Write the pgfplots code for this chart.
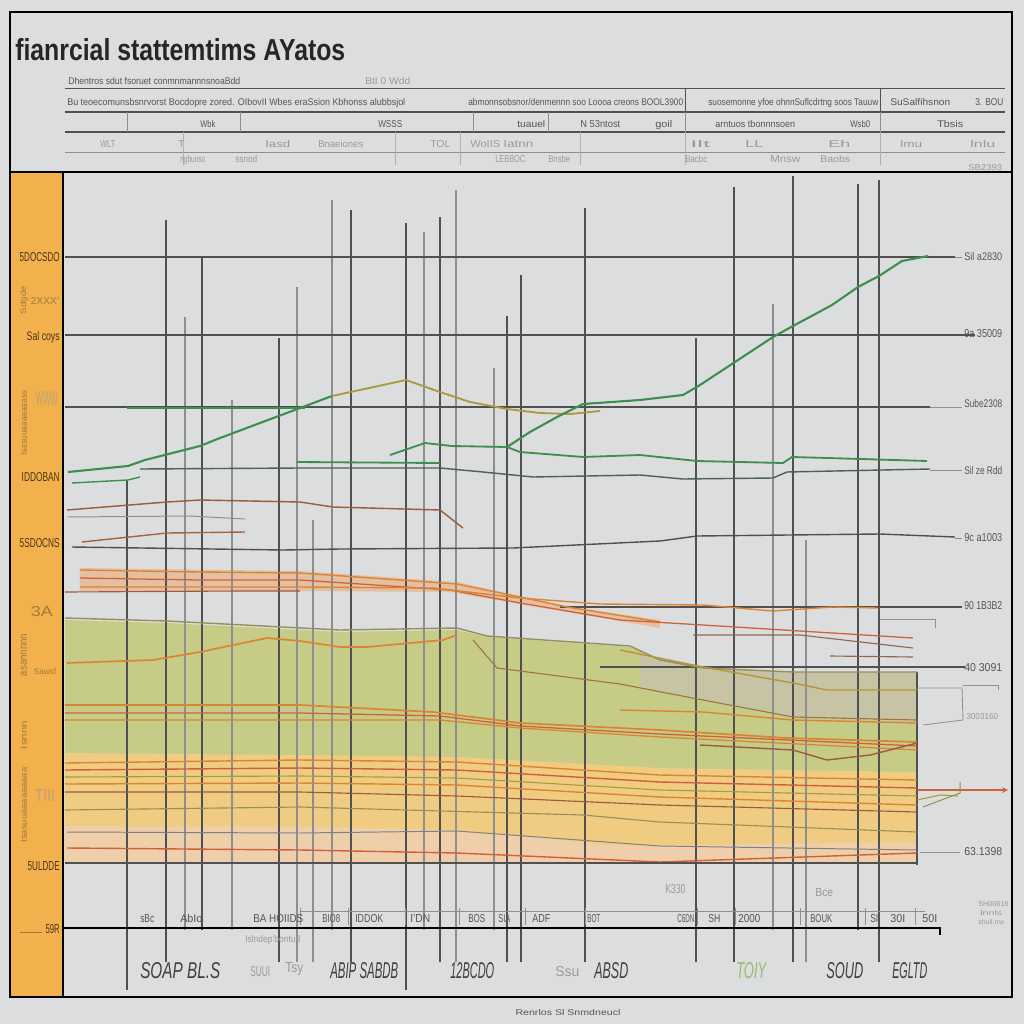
\documentclass[border=0pt]{standalone}
\usepackage{pgfplots}
\pgfplotsset{compat=1.18}
\usepackage{graphicx}
\usepackage{fontspec}
\setmainfont{Liberation Sans}
\newlength\pxu \setlength\pxu{0.25mm}
\newcommand\rt[3]{\resizebox{#1\pxu}{#2\pxu}{#3}}
\definecolor{bg}{HTML}{DCDDDF}
\definecolor{obar}{HTML}{F2B14D}
\definecolor{gridc}{HTML}{505050}
\definecolor{gridl}{HTML}{8E8E8E}
\definecolor{gline}{HTML}{3E8E50}
\definecolor{olive}{HTML}{A99B3C}
\definecolor{brn}{HTML}{9A5B40}
\definecolor{orng}{HTML}{DB8433}
\definecolor{redor}{HTML}{D0603A}
\definecolor{fgreen}{HTML}{C6CB86}
\definecolor{fyell}{HTML}{F0CC82}
\definecolor{fpeach}{HTML}{EECFAA}
\definecolor{fbeige}{HTML}{C8C3AC}
\definecolor{fband}{HTML}{E9B486}
\definecolor{txt}{HTML}{555555}
\definecolor{ltxt}{HTML}{9A9A9A}
\definecolor{btxt}{HTML}{4A3414}
\definecolor{bltxt}{HTML}{A07A3A}
\definecolor{bigt}{HTML}{404040}
\definecolor{gtxt}{HTML}{8FBF70}
\begin{document}
\begin{tikzpicture}
\begin{axis}[scale only axis, width=237.25mm, height=206.25mm,
  xmin=63, xmax=1012, ymin=172, ymax=997, y dir=reverse,
  hide axis, clip=false]
% background and frame
\fill[bg] (0,0) rectangle (1024,1024);
\coordinate (BL) at (0,1024);
\coordinate (TR) at (1024,0);
\fill[obar] (10,172) rectangle (63,997);
% ---------- fills ----------
\addplot[fill=fgreen, draw=none] coordinates {(65,620)(167,623)(340,632)(457,630)(487,637)(630,647)(660,660)(703,668)(793,672)(917,672)(917,863)(65,863)} -- cycle;
\addplot[fill=fbeige, draw=none, fill opacity=0.85] coordinates {(640,655)(703,667)(793,672)(917,672)(917,722)(793,717)(703,700)(640,688)} -- cycle;
\addplot[fill=fyell, draw=none] coordinates {(65,753)(300,755)(460,757)(660,768)(917,772)(917,863)(65,863)} -- cycle;
\addplot[fill=fpeach, draw=none] coordinates {(65,826)(300,827)(457,830)(620,846)(917,842)(917,863)(65,863)} -- cycle;
\addplot[fill=fband, draw=none, fill opacity=0.7] coordinates {(80,568)(300,571)(457,582)(520,596)(567,606)(660,620)(660,628)(520,604)(450,592)(300,591)(80,591)} -- cycle;
% ---------- grid ----------
\foreach \xx/\tp/\bt/\cc in {127/480/990/gridc,166/220/962/gridc,185/317/930/gridl,202/257/930/gridc,232/400/930/gridl,279/338/962/gridc,297/287/962/gridl,313/520/962/gridl,332/200/930/gridl,351/210/962/gridc,406/223/990/gridc,424/232/930/gridl,440/217/962/gridc,456/190/962/gridl,494/368/930/gridl,507/316/962/gridc,521/275/962/gridc,585/208/962/gridc,696/338/962/gridc,734/187/962/gridc,773/304/930/gridl,793/176/962/gridc,806/540/962/gridl,858/184/930/gridc,879/180/962/gridc,917/672/865/gridc}
  {\edef\temp{\noexpand\draw[\cc, line width=0.8pt] (\xx,\tp) -- (\xx,\bt);}\temp}
\draw[gridc, line width=1pt] (65,257) -- (955,257);
\draw[gridl, line width=0.5pt] (955,257) -- (962,257);
\draw[gridc, line width=1pt] (65,335) -- (975,335);
\draw[gridc, line width=1pt] (65,407) -- (930,407);
\draw[gridl, line width=0.5pt] (930,407) -- (962,407);
\draw[gridc, line width=1pt] (560,607) -- (962,607);
\draw[gridc, line width=1pt] (600,667) -- (965,667);
\draw[gridl, line width=0.5pt] (930,470) -- (962,470);
\draw[gridl, line width=0.5pt] (955,538) -- (962,538);
\draw[gridl, line width=0.5pt] (920,852) -- (960,852);
% ---------- upper lines ----------
\addplot[gridc, line width=1pt] coordinates {(72,547)(283,550)(340,549)(513,548)(660,541)(697,536)(880,534)(955,537)};
\addplot[gridc!70!gline, line width=1pt] coordinates {(140,469)(300,468)(440,468)(483,472)(533,477)(640,475)(683,479)(773,478)(787,472)(930,469)};
\addplot[gline, line width=1.5pt] coordinates {(68,472)(128,466)(145,460)(200,446)(220,438)(260,423)(300,408)(332,396)};
\addplot[olive, line width=1.3pt] coordinates {(332,396)(406,380)(440,392)(470,402)(507,409)(540,413)(570,414)(600,411)};
\addplot[gline, line width=1.3pt] coordinates {(127,408)(305,408)};
\addplot[gline, line width=1.5pt] coordinates {(507,447)(530,432)(557,417)(583,404)(640,400)(683,395)(700,385)(735,362)(773,337)(793,326)(832,305)(858,287)(879,276)(902,261)(928,256)};
\addplot[gline, line width=1.3pt] coordinates {(390,455)(425,443)(452,446)(507,447)(520,452)(583,457)(640,455)(697,461)(783,463)(792,457)(828,458)(927,461)};
\addplot[gline, line width=1.3pt] coordinates {(297,462)(440,463)};
\addplot[gline, line width=1pt] coordinates {(72,483)(128,480)(140,477)};
\addplot[brn, line width=1pt] coordinates {(67,510)(167,502)(200,500)(300,502)(333,507)(440,510)(463,528)};
\addplot[gridl, line width=0.7pt] coordinates {(67,517)(190,516)(245,519)};
\addplot[brn!80!orng, line width=1pt] coordinates {(82,542)(167,533)(245,532)};
% orange band
\addplot[orng, line width=1pt] coordinates {(80,570)(200,572)(300,573)(457,584)(520,597)(567,607)(660,622)};
\addplot[redor, line width=0.9pt] coordinates {(80,578)(200,580)(300,580)(450,590)(520,603)(620,620)(703,625)(913,638)};
\addplot[orng, line width=1pt] coordinates {(80,587)(300,587)(433,588)(520,598)(600,604)(703,605)(773,611)(833,607)(877,608)};
\addplot[brn, line width=0.8pt] coordinates {(65,592)(240,591)(300,591)};
\addplot[brn!70!gray, line width=0.8pt] coordinates {(693,635)(800,635)(913,648)};
\addplot[brn!70!gray, line width=0.8pt] coordinates {(830,656)(913,657)};
% ---------- lines in filled area ----------
\addplot[olive!55!gray, line width=1pt] coordinates {(65,618)(167,621)(340,630)(457,628)(487,636)(630,646)(660,660)(703,668)(793,672)(917,672)};
\addplot[orng, line width=1.2pt] coordinates {(67,663)(153,660)(200,652)(267,638)(300,641)(340,647)(367,647)(443,640)(457,635)};
\addplot[olive!80!orng, line width=1pt] coordinates {(620,650)(703,667)(793,683)(827,690)(917,690)};
\addplot[brn!60!olive, line width=0.8pt] coordinates {(473,640)(497,668)(620,684)(703,700)(793,717)(917,720)};
\addplot[orng, line width=1pt] coordinates {(620,710)(703,712)(793,720)(917,723)};
\addplot[orng, line width=1.2pt] coordinates {(65,705)(300,705)(433,712)(520,723)(660,730)(787,738)(917,742)};
\addplot[redor, line width=0.9pt] coordinates {(65,713)(300,713)(440,716)(520,726)(660,734)(917,746)};
\addplot[orng, line width=0.9pt] coordinates {(65,720)(300,720)(440,720)(520,728)(660,737)(917,750)};
\addplot[brn, line width=1pt] coordinates {(700,745)(793,750)(827,760)(870,755)(917,743)};
\addplot[orng, line width=1pt] coordinates {(65,763)(300,760)(457,762)(660,775)(917,780)};
\addplot[redor, line width=1pt] coordinates {(65,770)(300,768)(457,770)(660,782)(917,788)};
\addplot[olive, line width=0.8pt] coordinates {(65,777)(300,776)(457,778)(660,790)(917,796)};
\addplot[orng, line width=1pt] coordinates {(65,784)(300,783)(457,785)(660,797)(917,805)};
\addplot[brn, line width=0.8pt] coordinates {(65,792)(300,792)(457,796)(660,805)(917,812)};
\addplot[olive!60!gray, line width=0.8pt] coordinates {(65,810)(300,807)(583,815)(660,822)(917,832)};
\addplot[gray, line width=0.7pt] coordinates {(67,832)(300,833)(457,831)(660,846)(917,850)};
\addplot[redor, line width=1pt] coordinates {(67,848)(300,850)(457,853)(660,862)(917,853)};
\draw[gridc, line width=1.4pt] (65,863) -- (917,863);
% right of fill
\addplot[redor, line width=0.9pt, -stealth] coordinates {(917,790)(1008,790)};
\addplot[olive, line width=0.8pt] coordinates {(917,800)(940,795)(958,796)};
\addplot[olive!70!gline, line width=0.7pt] coordinates {(923,807)(960,793)(960,782)};
\draw[gridl, line width=0.6pt] (917,688) -- (962,688) -- (963,720) -- (923,725);
\draw[gridl, line width=0.6pt] (880,619) -- (935,619) -- (935,628);
\draw[gridl, line width=0.6pt] (963,685) -- (998,685) -- (998,690);
% bottom rules
\draw[black, line width=1.6pt] (63,928) -- (940,928) -- (940,935);
\draw[gridl, line width=0.6pt] (300,911) -- (925,911);
\foreach \xx in {300,348,405,459,525,585,697,735,800,865,915} {\edef\temp{\noexpand\draw[gridl, line width=0.5pt] (\xx,908) -- (\xx,925);}\temp}
% ---------- frame ----------
\draw[black, line width=1.3pt] (10,12) rectangle (1012,997);
\draw[black, line width=1.6pt] (10,172) -- (1012,172);
\draw[black, line width=1.2pt] (63,172) -- (63,997);
% ---------- title ----------
\node[anchor=base west, inner sep=0, text=black!85] at (15,60) {\rt{330}{22}{\bfseries fianrcial stattemtims AYatos}};
% ---------- header table ----------
\draw[gridc, line width=0.6pt] (65,88) -- (1005,88);
\draw[gridc, line width=1pt] (65,112) -- (1005,112);
\draw[gridc, line width=1pt] (65,132) -- (1005,132);
\draw[gridl, line width=0.4pt] (65,152) -- (1005,152);
\foreach \xx in {685,880} {\edef\temp{\noexpand\draw[gridc, line width=0.6pt] (\xx,88) -- (\xx,112);}\temp}
\foreach \xx in {127,240,473,548,685,880} {\edef\temp{\noexpand\draw[gridl, line width=0.6pt] (\xx,112) -- (\xx,132);}\temp}
\foreach \xx in {183,395,460,580,685,880} {\edef\temp{\noexpand\draw[gridl!70, line width=0.5pt] (\xx,132) -- (\xx,165);}\temp}
\node[anchor=base west, inner sep=0, text=txt] at (68,84) {\rt{172}{7}{Dhentros sdut fsoruet conmnmannnsnoaBdd}};
\node[anchor=base west, inner sep=0, text=ltxt] at (365,84) {\rt{45}{7}{BtI 0 Wdd}};
\node[anchor=base west, inner sep=0, text=txt] at (67,105) {\rt{338}{7}{Bu teoecomunsbsnrvorst Bocdopre zored. OIbovII Wbes eraSsion Kbhonss alubbsjol}};
\node[anchor=base west, inner sep=0, text=txt] at (468,105) {\rt{215}{7}{abmonnsobsnor/denmennn soo Loooa creons BOOL3900}};
\node[anchor=base west, inner sep=0, text=txt] at (708,105) {\rt{170}{7}{suosemonne yfoe ohnnSuflcdrtng soos Tauuw}};
\node[anchor=base west, inner sep=0, text=txt] at (890,105) {\rt{60}{7}{SuSalfihsnon}};
\node[anchor=base west, inner sep=0, text=txt] at (975,105) {\rt{28}{7}{3. BOU}};
\foreach \xx/\ww/\ss in {200/15/Wbk,378/24/WSSS,517/28/tuauel,580/40/N 53ntost,655/17/goil,715/80/arntuos tbonnnsoen,850/20/Wsb0,937/26/Tbsis}
  {\edef\temp{\noexpand\node[anchor=base west, inner sep=0, text=txt] at (\xx,127) {\noexpand\rt{\ww}{7}{\ss}};}\temp}
\foreach \xx/\ww/\ss in {100/15/WLT,178/6/T,265/25/Iasd,318/45/Bnaeiones,430/20/TOL,470/30/WoIIS,503/30/Iatnn,690/20/Ilt,745/18/LL,828/22/Eh,900/22/lmu,970/25/lnlu}
  {\edef\temp{\noexpand\node[anchor=base west, inner sep=0, text=ltxt] at (\xx,147) {\noexpand\rt{\ww}{7}{\ss}};}\temp}
\foreach \xx/\ww/\ss in {180/25/ngbunso,235/22/ssnod,495/30/LEBBOC,548/22/Bnsbe,685/22/Bacbc,770/30/Mnsw,820/30/Baobs}
  {\edef\temp{\noexpand\node[anchor=base west, inner sep=0, text=ltxt] at (\xx,162) {\noexpand\rt{\ww}{7}{\ss}};}\temp}
\node[anchor=base west, inner sep=0, text=ltxt] at (968,170) {\rt{34}{6}{SB2393}};
% ---------- right labels ----------
\foreach \yy/\ss in {257/Sil a2830,334/9a 35009,404/Sube2308,471/Sil ze Rdd,538/9c a1003,606/90 1B3B2,668/40 3091,852/63.1398}
  {\edef\temp{\noexpand\node[anchor=west, inner sep=0, text=txt] at (964,\yy) {\noexpand\rt{38}{8}{\ss}};}\temp}
\node[anchor=west, inner sep=0, text=ltxt] at (966,717) {\rt{32}{6}{3003160}};
\node[anchor=base west, inner sep=0, text=ltxt] at (978,906) {\rt{30}{5}{SH00618}};
\node[anchor=base west, inner sep=0, text=ltxt] at (980,915) {\rt{22}{5}{lnnls}};
\node[anchor=base west, inner sep=0, text=ltxt] at (978,924) {\rt{26}{5}{shuil.rrw}};
% ---------- left labels ----------
\foreach \yy/\ww/\ss in {257/40/5DOCSDO,337/33/Sal coys,477/38/IDDOBAN,543/40/5SDOCNS,866/32/5ULDDE,929/14/59R}
  {\edef\temp{\noexpand\node[anchor=east, inner sep=0, text=btxt] at (60,\yy) {\noexpand\rt{\ww}{9}{\ss}};}\temp}
\draw[bltxt, line width=0.5pt] (20,932) -- (42,932);
\node[rotate=90, inner sep=0, text=bltxt] at (24,300) {\rt{28}{6}{Sdgde}};
\node[inner sep=0, text=bltxt] at (45,301) {\rt{28}{7}{2XXX'}};
\node[rotate=90, inner sep=0, text=bltxt] at (24,423) {\rt{65}{6}{Isasuuaaaaaaass}};
\node[inner sep=0, text=bltxt!70] at (47,398) {\rt{22}{14}{WWW}};
\node[inner sep=0, text=bltxt] at (42,612) {\rt{22}{10}{3A}};
\node[rotate=90, inner sep=0, text=bltxt] at (24,655) {\rt{42}{6}{asannnnn}};
\node[inner sep=0, text=bltxt] at (45,672) {\rt{22}{6}{Sawsf}};
\node[rotate=90, inner sep=0, text=bltxt] at (24,735) {\rt{28}{6}{Isnnn}};
\node[rotate=90, inner sep=0, text=bltxt] at (24,805) {\rt{75}{6}{Isasuuaaaaaaaaa}};
\node[inner sep=0, text=bltxt!70] at (45,795) {\rt{20}{12}{TIII}};
% ---------- bottom labels ----------
\foreach \xx/\ww/\ss in {140/14/sBc,180/22/AbIo,253/50/BA HOIIDS,322/18/BIO8,355/28/IDDOK,410/20/I'DN,468/17/BOS,498/12/SIA,532/18/ADF,587/13/BOT,677/17/C6DN,708/12/SH,738/22/2000,810/22/BOUK,870/8/SI,890/15/30I,922/15/50I}
  {\edef\temp{\noexpand\node[anchor=base west, inner sep=0, text=txt] at (\xx,922) {\noexpand\rt{\ww}{8}{\ss}};}\temp}
\node[anchor=base west, inner sep=0, text=ltxt] at (245,942) {\rt{55}{7}{Islndep'bontud}};
\foreach \xx/\ww/\ss/\cl in {140/80/SOAP BL.S/bigt,330/68/ABIP SABDB/bigt,450/44/12BCDO/bigt,594/34/ABSD/bigt,736/30/TOIY/gtxt,826/37/SOUD/bigt,892/35/EGLTD/bigt}
  {\edef\temp{\noexpand\node[anchor=base west, inner sep=0, text=\cl] at (\xx,978) {\noexpand\rt{\ww}{16}{\noexpand\itshape \ss}};}\temp}
\node[anchor=base west, inner sep=0, text=ltxt] at (250,976) {\rt{20}{10}{SUUI}};
\node[anchor=base west, inner sep=0, text=ltxt] at (285,972) {\rt{18}{10}{Tsy}};
\node[anchor=base west, inner sep=0, text=ltxt] at (555,976) {\rt{24}{10}{Ssu}};
\node[anchor=base west, inner sep=0, text=ltxt] at (665,893) {\rt{20}{9}{K330}};
\node[anchor=base west, inner sep=0, text=ltxt] at (815,896) {\rt{18}{8}{Bce}};
\node[anchor=base, inner sep=0, text=txt] at (568,1015) {\rt{105}{6}{Renrlos Sl Snmdneucl}};
\end{axis}
\pgfresetboundingbox
\path[use as bounding box] (BL) rectangle (TR);
\end{tikzpicture}
\end{document}
